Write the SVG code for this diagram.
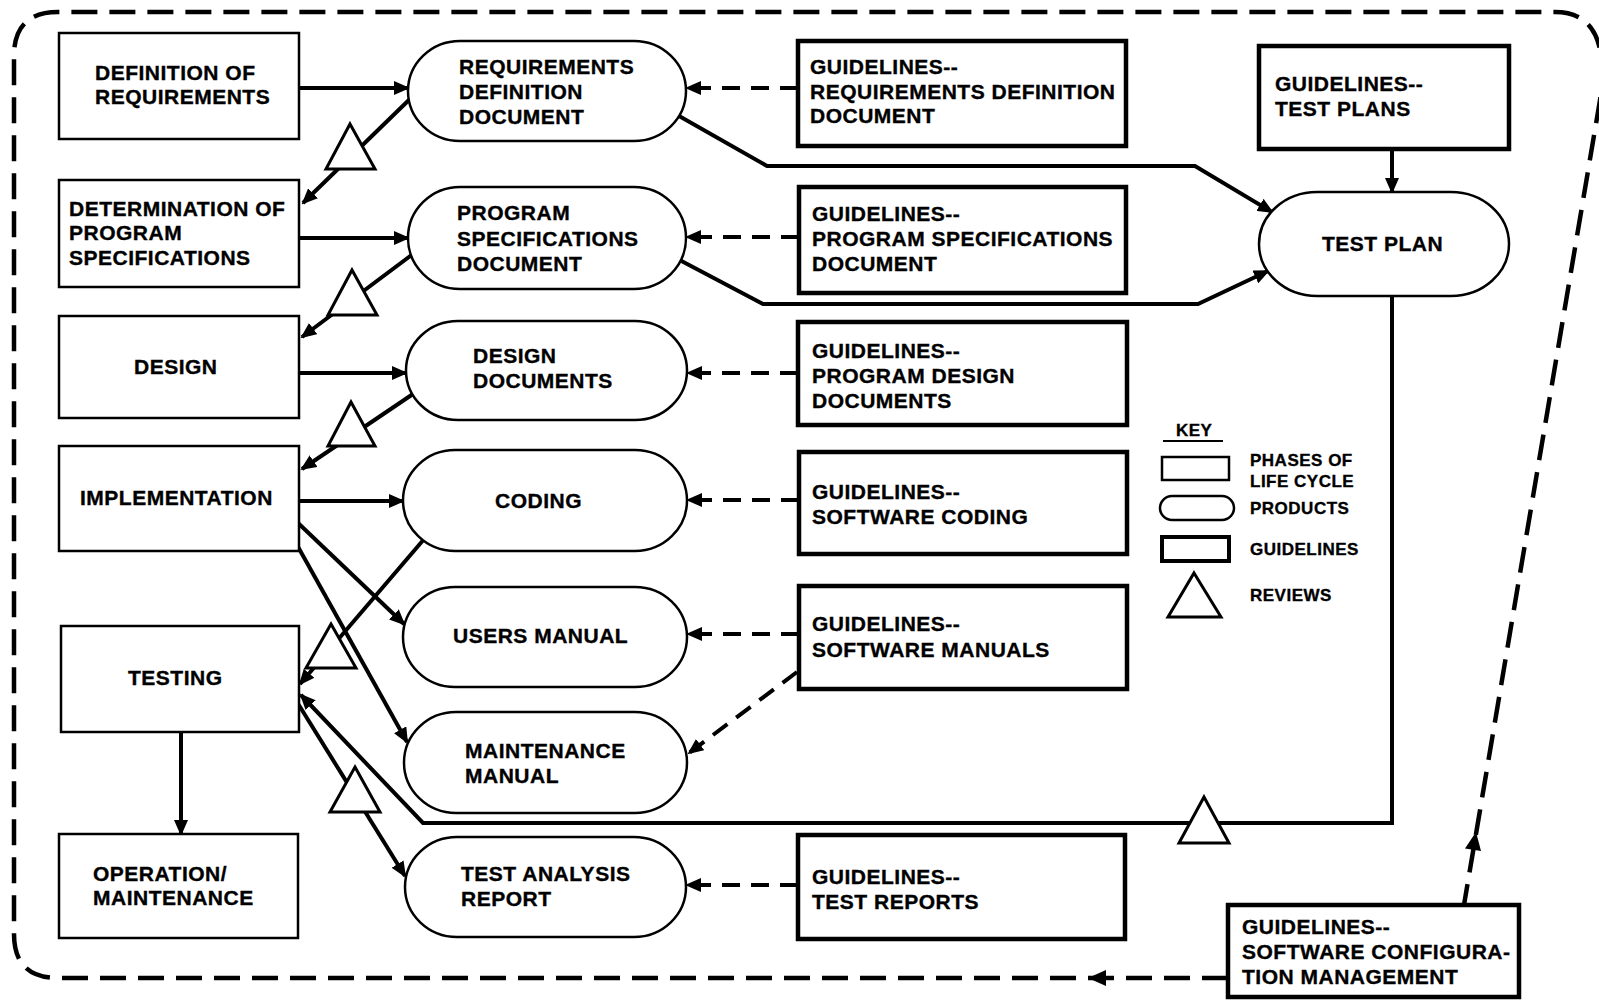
<svg xmlns="http://www.w3.org/2000/svg" width="1599" height="1001" viewBox="0 0 1599 1001">
<defs>
<style>
.phase{fill:#fff;stroke:#000;stroke-width:2.5}
.prod{fill:#fff;stroke:#000;stroke-width:2.5}
.guide{fill:#fff;stroke:#000;stroke-width:4.5}
.rev{fill:#fff;stroke:#000;stroke-width:3;stroke-linejoin:miter}
.t{font-family:"Liberation Sans",Arial,sans-serif;font-weight:bold;font-size:21px;letter-spacing:0.5px;fill:#000;stroke:#000;stroke-width:0.35px}
.k{font-size:17px;letter-spacing:0.5px}
.c{fill:none;stroke:#000;stroke-width:4;stroke-linejoin:miter}
.d{stroke-dasharray:18 11}
.border{fill:none;stroke:#000;stroke-width:4.5;stroke-dasharray:26 12}
.ah{fill:#000}
</style>
<marker id="ah" viewBox="0 0 16 14" markerWidth="16" markerHeight="14" refX="14" refY="7" orient="auto" markerUnits="userSpaceOnUse"><path d="M0,0 L16,7 L0,14 z" fill="#000"/></marker>
</defs>
<rect width="1599" height="1001" fill="#fff"/>

<g id="connectors">
  <path class="border" d="M1228,978 L58,978 Q14,978 14,934 L14,56 Q14,12 58,12 L1555,12 Q1612,12 1600,100 L1464,905"/>
  <polygon class="ah" points="1088,978 1106,970 1106,986"/>
  <polygon class="ah" points="1476,832 1481,851 1465,848.5"/>

  <path class="c" marker-end="url(#ah)" d="M299,88 L408,88"/>
  <path class="c" marker-end="url(#ah)" d="M299,238 L408,238"/>
  <path class="c" marker-end="url(#ah)" d="M299,373 L406,373"/>
  <path class="c" marker-end="url(#ah)" d="M299,501 L403,501"/>

  <path class="c" marker-end="url(#ah)" d="M412,97 L303,203"/>
  <path class="c" marker-end="url(#ah)" d="M413,254 L302,337"/>
  <path class="c" marker-end="url(#ah)" d="M413,394 L302,469"/>
  <path class="c" marker-end="url(#ah)" d="M425,538 L300,684"/>
  <path class="c" marker-end="url(#ah)" d="M297,522 L404,624"/>
  <path class="c" marker-end="url(#ah)" d="M297,545 L407,742"/>
  <path class="c" marker-end="url(#ah)" d="M297,702 L405,876"/>
  <path class="c" marker-end="url(#ah)" d="M1392,296 L1392,823 L423,823 L301,695"/>
  <path class="c" marker-end="url(#ah)" d="M672,112 L767,166 L1195,166 L1272,212"/>
  <path class="c" marker-end="url(#ah)" d="M672,256 L763,304 L1198,304 L1268,271"/>
  <path class="c" marker-end="url(#ah)" d="M1392,149 L1392,192"/>
  <path class="c" marker-end="url(#ah)" d="M181,732 L181,834"/>

  <path class="c d" marker-end="url(#ah)" d="M798,88 L687,88"/>
  <path class="c d" marker-end="url(#ah)" d="M799,237 L687,237"/>
  <path class="c d" marker-end="url(#ah)" d="M798,373 L688,373"/>
  <path class="c d" marker-end="url(#ah)" d="M799,500 L688,500"/>
  <path class="c d" marker-end="url(#ah)" d="M799,634 L688,634"/>
  <path class="c d" marker-end="url(#ah)" d="M797,672 L689,753"/>
  <path class="c d" marker-end="url(#ah)" d="M798,885 L687,885"/>
</g>

<g id="n-def"><rect class="phase" x="59" y="33" width="240" height="106"/>
<text class="t"><tspan x="95" y="80">DEFINITION OF</tspan><tspan x="95" y="104">REQUIREMENTS</tspan></text></g>
<g id="n-det"><rect class="phase" x="59" y="180" width="240" height="107"/>
<text class="t"><tspan x="69" y="216">DETERMINATION OF</tspan><tspan x="69" y="240">PROGRAM</tspan><tspan x="69" y="265">SPECIFICATIONS</tspan></text></g>
<g id="n-design"><rect class="phase" x="59" y="316" width="240" height="102"/>
<text class="t" x="134" y="374">DESIGN</text></g>
<g id="n-impl"><rect class="phase" x="59" y="446" width="240" height="105"/>
<text class="t" x="80" y="505">IMPLEMENTATION</text></g>
<g id="n-test"><rect class="phase" x="61" y="626" width="238" height="106"/>
<text class="t" x="128" y="685">TESTING</text></g>
<g id="n-op"><rect class="phase" x="59" y="834" width="239" height="104"/>
<text class="t"><tspan x="93" y="881">OPERATION/</tspan><tspan x="93" y="905">MAINTENANCE</tspan></text></g>

<g id="p-rdd"><rect class="prod" x="408" y="41" width="278" height="100" rx="52" ry="50"/>
<text class="t"><tspan x="459" y="74">REQUIREMENTS</tspan><tspan x="459" y="99">DEFINITION</tspan><tspan x="459" y="124">DOCUMENT</tspan></text></g>
<g id="p-psd"><rect class="prod" x="408" y="187" width="278" height="102" rx="52" ry="51"/>
<text class="t"><tspan x="457" y="220">PROGRAM</tspan><tspan x="457" y="246">SPECIFICATIONS</tspan><tspan x="457" y="271">DOCUMENT</tspan></text></g>
<g id="p-dd"><rect class="prod" x="406" y="321" width="281" height="99" rx="52" ry="49.5"/>
<text class="t"><tspan x="473" y="363">DESIGN</tspan><tspan x="473" y="388">DOCUMENTS</tspan></text></g>
<g id="p-cod"><rect class="prod" x="403" y="450" width="284" height="101" rx="52" ry="50.5"/>
<text class="t" x="495" y="508">CODING</text></g>
<g id="p-um"><rect class="prod" x="403" y="587" width="284" height="100" rx="52" ry="50"/>
<text class="t" x="453" y="643">USERS MANUAL</text></g>
<g id="p-mm"><rect class="prod" x="404" y="712" width="283" height="101" rx="52" ry="50.5"/>
<text class="t"><tspan x="465" y="758">MAINTENANCE</tspan><tspan x="465" y="783">MANUAL</tspan></text></g>
<g id="p-tar"><rect class="prod" x="405" y="837" width="281" height="100" rx="52" ry="50"/>
<text class="t"><tspan x="461" y="881">TEST ANALYSIS</tspan><tspan x="461" y="906">REPORT</tspan></text></g>
<g id="p-tp"><rect class="prod" x="1259" y="192" width="250" height="104" rx="58" ry="52"/>
<text class="t" x="1322" y="251">TEST PLAN</text></g>

<g id="g-rdd"><rect class="guide" x="798" y="41" width="328" height="105"/>
<text class="t"><tspan x="810" y="74">GUIDELINES--</tspan><tspan x="810" y="99">REQUIREMENTS DEFINITION</tspan><tspan x="810" y="123">DOCUMENT</tspan></text></g>
<g id="g-psd"><rect class="guide" x="799" y="187" width="327" height="106"/>
<text class="t"><tspan x="812" y="221">GUIDELINES--</tspan><tspan x="812" y="246">PROGRAM SPECIFICATIONS</tspan><tspan x="812" y="271">DOCUMENT</tspan></text></g>
<g id="g-pdd"><rect class="guide" x="798" y="322" width="329" height="103"/>
<text class="t"><tspan x="812" y="358">GUIDELINES--</tspan><tspan x="812" y="383">PROGRAM DESIGN</tspan><tspan x="812" y="408">DOCUMENTS</tspan></text></g>
<g id="g-sc"><rect class="guide" x="799" y="452" width="328" height="102"/>
<text class="t"><tspan x="812" y="499">GUIDELINES--</tspan><tspan x="812" y="524">SOFTWARE CODING</tspan></text></g>
<g id="g-sm"><rect class="guide" x="799" y="586" width="328" height="103"/>
<text class="t"><tspan x="812" y="631">GUIDELINES--</tspan><tspan x="812" y="657">SOFTWARE MANUALS</tspan></text></g>
<g id="g-tr"><rect class="guide" x="798" y="835" width="327" height="104"/>
<text class="t"><tspan x="812" y="884">GUIDELINES--</tspan><tspan x="812" y="909">TEST REPORTS</tspan></text></g>
<g id="g-tp"><rect class="guide" x="1259" y="46" width="250" height="103"/>
<text class="t"><tspan x="1275" y="91">GUIDELINES--</tspan><tspan x="1275" y="116">TEST PLANS</tspan></text></g>
<g id="g-scm"><rect class="guide" x="1228" y="905" width="291" height="92"/>
<text class="t"><tspan x="1242" y="934">GUIDELINES--</tspan><tspan x="1242" y="959">SOFTWARE CONFIGURA-</tspan><tspan x="1242" y="984">TION MANAGEMENT</tspan></text></g>

<g id="r1"><polygon class="rev" points="350,124 375,169 326,169"/></g>
<g id="r2"><polygon class="rev" points="352,270 377,315 328,315"/></g>
<g id="r3"><polygon class="rev" points="351,402 375,446 328,446"/></g>
<g id="r4"><polygon class="rev" points="331,624 356,668 306,668"/></g>
<g id="r5"><polygon class="rev" points="355,767 380,812 330,812"/></g>
<g id="r6"><polygon class="rev" points="1204,797 1229,843 1179,843"/></g>

<g id="key">
  <text class="t k" x="1176" y="436">KEY</text>
  <line x1="1163" y1="441" x2="1223" y2="441" stroke="#000" stroke-width="2"/>
  <rect class="phase" x="1162" y="457" width="67" height="23"/>
  <rect class="prod" x="1160" y="496" width="74" height="24" rx="12" ry="12"/>
  <rect class="guide" x="1162" y="537" width="67" height="24" style="stroke-width:4"/>
  <polygon class="rev" points="1194,573 1221,617 1168,617"/>
  <text class="t k"><tspan x="1250" y="466">PHASES OF</tspan><tspan x="1250" y="487">LIFE CYCLE</tspan><tspan x="1250" y="514">PRODUCTS</tspan><tspan x="1250" y="555">GUIDELINES</tspan><tspan x="1250" y="601">REVIEWS</tspan></text>
</g>
</svg>
